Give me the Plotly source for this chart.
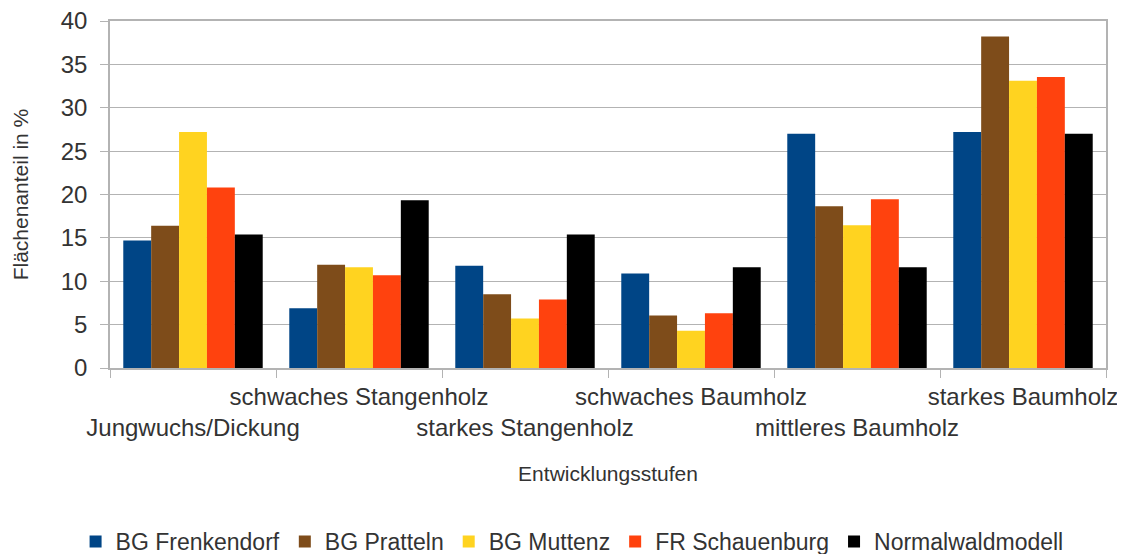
import plotly.graph_objects as go

categories = ["Jungwuchs/Dickung", "schwaches Stangenholz", "starkes Stangenholz",
              "schwaches Baumholz", "mittleres Baumholz", "starkes Baumholz"]
frenkendorf = [14.7, 6.9, 11.8, 10.9, 27.0, 27.2]
pratteln = [16.4, 11.9, 8.5, 6.05, 18.65, 38.2]
muttenz = [27.2, 11.6, 5.7, 4.3, 16.45, 33.1]
schauenburg = [20.8, 10.7, 7.9, 6.3, 19.45, 33.55]
normalwald = [15.4, 19.35, 15.4, 11.6, 11.6, 27.0]

series = [
    ("BG Frenkendorf", frenkendorf, "#004586"),
    ("BG Pratteln", pratteln, "#7E4C1A"),
    ("BG Muttenz", muttenz, "#FFD320"),
    ("FR Schauenburg", schauenburg, "#FF420E"),
    ("Normalwaldmodell", normalwald, "#000000"),
]

# staggered tick labels: even index on lower row
ticktext = [("<br>" + c) if i % 2 == 0 else c for i, c in enumerate(categories)]

fig = go.Figure()
for name, vals, col in series:
    fig.add_trace(go.Bar(x=categories, y=vals, name=name, marker_color=col,
                         marker_line_width=0))

font = dict(family="Liberation Sans, Arial, sans-serif", color="#333333")
# page body has an 8px margin, so the figure is shifted by (8, 8)
fig.update_layout(
    width=1117, height=546,
    margin=dict(l=102, r=19, t=13, b=186, autoexpand=False),
    plot_bgcolor="white", paper_bgcolor="white",
    barmode="group", bargap=0.16, bargroupgap=0,
    font=dict(**font, size=23),
    showlegend=True,
    legend=dict(orientation="h", x=0.505, xanchor="center", xref="container",
                y=-0.5, yanchor="middle", font=dict(**font, size=23),
                itemwidth=30, tracegroupgap=0),
)
fig.update_xaxes(
    type="category", tickmode="array", tickvals=categories, ticktext=ticktext,
    tickson="boundaries", ticks="outside", ticklen=8, tickcolor="#b3b3b3",
    showline=True, linecolor="#b3b3b3", linewidth=1.5, mirror=True,
    showgrid=False, tickfont=dict(**font, size=24), tickangle=0,
    ticklabelstandoff=6, automargin=False, ticklabeloverflow="allow",
    title=dict(text="Entwicklungsstufen", font=dict(**font, size=21), standoff=27),
)
fig.update_yaxes(
    range=[0, 40], dtick=5, ticks="outside", ticklen=8, tickcolor="#b3b3b3",
    showline=True, linecolor="#b3b3b3", linewidth=1.5, mirror=True,
    showgrid=True, gridcolor="#b3b3b3", gridwidth=1, zeroline=False,
    tickfont=dict(**font, size=24), ticklabelstandoff=8, automargin=False,
    ticklabeloverflow="allow",
    title=dict(text="Flächenanteil in %", font=dict(**font, size=21), standoff=26),
)
fig.write_html("out.html")
